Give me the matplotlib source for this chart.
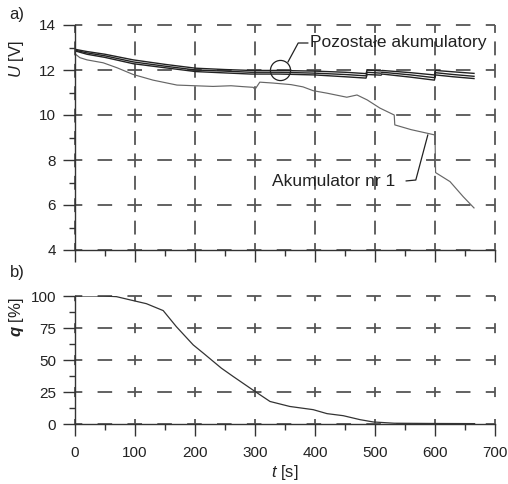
import numpy as np
import matplotlib
matplotlib.use("Agg")
import matplotlib.pyplot as plt
from matplotlib.ticker import MultipleLocator

plt.rcParams['font.family'] = ['Liberation Sans', 'DejaVu Sans']
plt.rcParams['mathtext.fontset'] = 'custom'
plt.rcParams['mathtext.rm'] = 'Liberation Sans'
plt.rcParams['mathtext.it'] = 'Liberation Sans:italic'
plt.rcParams['mathtext.bf'] = 'Liberation Sans:italic:bold'
plt.rcParams['lines.scale_dashes'] = False

# --- data ---
# Akumulator nr 1
t_a1 = [0, 8, 20, 47, 70, 97, 130, 170, 200, 230, 260, 280, 297, 300, 308, 330,
        360, 380, 397, 420, 453, 470, 487, 508, 532, 533, 560, 592, 600, 601,
        625, 647, 665]
u_a1 = [12.72, 12.55, 12.45, 12.32, 12.1, 11.8, 11.55, 11.33, 11.3, 11.27, 11.3,
        11.26, 11.23, 11.14, 11.46, 11.42, 11.35, 11.25, 11.08, 10.97, 10.79,
        10.89, 10.67, 10.31, 10.0, 9.56, 9.35, 9.16, 9.11, 7.44, 7.04, 6.37, 5.87]

# Pozostale akumulatory (bundle)
t_rest = [0, 20, 50, 97, 150, 201, 250, 293, 340, 400, 450, 485, 487, 510, 512,
          560, 599, 601, 630, 665]
u_rest1 = [12.92, 12.82, 12.7, 12.45, 12.25, 12.08, 12.02, 11.98, 11.98, 11.95,
           11.9, 11.84, 12.0, 11.96, 11.98, 11.88, 11.78, 11.98, 11.92, 11.85]
u_rest2 = [12.88, 12.76, 12.63, 12.36, 12.17, 12.0, 11.95, 11.9, 11.9, 11.86,
           11.8, 11.74, 11.9, 11.86, 11.9, 11.78, 11.66, 11.88, 11.8, 11.72]
u_rest3 = [12.85, 12.7, 12.56, 12.28, 12.1, 11.93, 11.87, 11.82, 11.82, 11.78,
           11.7, 11.64, 11.8, 11.77, 11.82, 11.68, 11.55, 11.78, 11.7, 11.62]

# q [%]
t_q = [0, 47, 69, 97, 119, 147, 169, 197, 214, 244, 264, 292, 303, 325, 358,
       397, 420, 447, 475, 497, 532, 600, 666]
q_val = [100, 100, 99.5, 96.4, 94, 88.6, 76, 61.8, 55.3, 43.6, 37, 28, 24.5,
         17.6, 13.7, 11.2, 8.1, 6.5, 3.4, 1.6, 0.6, 0.4, 0.3]

x_ticks = [0, 100, 200, 300, 400, 500, 600, 700]
u_ticks = [4, 6, 8, 10, 12, 14]
q_ticks = [0, 25, 50, 75, 100]

fig = plt.figure(figsize=(5.08, 4.84), dpi=100)
W, H = 508, 484
ax1 = fig.add_axes([75 / W, 1 - 250 / H, 420 / W, 225 / H])
ax2 = fig.add_axes([75 / W, 1 - 424 / H, 420 / W, 128 / H])

dark = '#333333'
gridc = '#555555'


def style(ax, ylim, yticks, yminor, hdash, vdash):
    ax.set_xlim(0, 700)
    ax.set_ylim(*ylim)
    ax.set_xticks(x_ticks)
    ax.xaxis.set_minor_locator(MultipleLocator(50))
    ax.set_yticks(yticks)
    ax.yaxis.set_minor_locator(MultipleLocator(yminor))
    for s in ['top', 'right']:
        ax.spines[s].set_visible(False)
    for s in ['left', 'bottom']:
        ax.spines[s].set_color(dark)
        ax.spines[s].set_linewidth(1.0)
    ax.tick_params(which='major', direction='out', length=8.5, width=1.0,
                   color=dark, labelsize=11, labelcolor='#222222')
    ax.tick_params(which='minor', direction='out', length=4.5, width=1.0,
                   color=dark)
    ax.tick_params(axis='y', pad=5)
    ax.tick_params(axis='x', pad=7)
    ax.set_axisbelow(True)
    ax.grid(True, which='major', axis='y', color=gridc, lw=1.3, linestyle=hdash)
    ax.grid(True, which='major', axis='x', color=gridc, lw=1.3, linestyle=vdash)
    for gl in ax.get_xgridlines() + ax.get_ygridlines():
        gl.set_clip_on(False)


style(ax1, (4, 14), u_ticks, 1, (5.25, (10.5, 11)), (5, (10, 6.13)))
style(ax2, (0, 100), q_ticks, 12.5, (5.25, (10.5, 11)), (3.6, (7.2, 15.8)))
ax1.tick_params(axis='x', labelbottom=False)

# lines
ax1.plot(t_a1, u_a1, color='#666666', lw=0.85)
for u in (u_rest1, u_rest2, u_rest3):
    ax1.plot(t_rest, u, color='#222222', lw=1.0)
ax2.plot(t_q, q_val, color='#333333', lw=0.9)

# annotations
ax1.plot([341], [11.99], marker='o', ms=14.5, mfc='none', mec='#222222', mew=0.9)
ax1.plot([355, 372, 388], [12.36, 13.2, 13.2], color='#222222', lw=0.9)
ax1.text(391, 13.2, 'Pozostałe akumulatory', fontsize=12.5, va='center',
         ha='left', color='#222222')
ax1.plot([552, 568, 588], [7.07, 7.11, 9.11], color='#222222', lw=0.9)
ax1.text(533, 7.05, 'Akumulator nr 1', fontsize=12.5, va='center', ha='right',
         color='#222222')

# labels
fig.text(17 / W, 1 - 15 / H, 'a)', fontsize=12, ha='center', va='center',
         color='#222222')
fig.text(17 / W, 1 - 272 / H, 'b)', fontsize=12, ha='center', va='center',
         color='#222222')
fig.text(17 / W, 1 - 59 / H, r'$U$ [V]', fontsize=12, ha='center', va='center',
         rotation=90, color='#222222')
fig.text(17 / W, 1 - 317 / H, r'$\mathbf{q}$ [%]', fontsize=12, ha='center',
         va='center', rotation=90, color='#222222')
fig.text(285 / W, 1 - 472 / H, r'$t$ [s]', fontsize=12, ha='center',
         va='center', color='#222222')

fig.savefig('out.png', dpi=100)
